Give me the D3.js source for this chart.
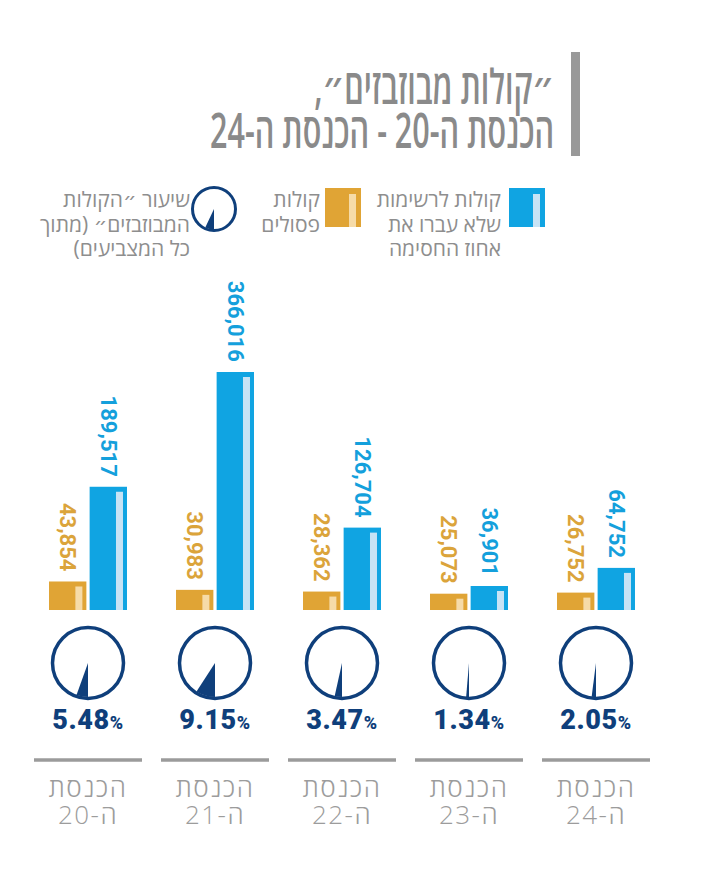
<!DOCTYPE html>
<html>
<head>
<meta charset="utf-8">
<script src="https://d3js.org/d3.v7.min.js"></script>
<style>
  html, body { margin: 0; padding: 0; background: #fff; }
  svg text { font-family: "Open Sans", "DejaVu Sans", sans-serif; }
</style>
</head>
<body>
<svg id="chart" width="716" height="889"></svg>
<script>
// values
var knessets = ["ה-20", "ה-21", "ה-22", "ה-23", "ה-24"];
var disqualified = [43854, 30983, 28362, 25073, 26752];
var belowThreshold = [189517, 366016, 126704, 36901, 64752];
var wastedPct = [5.48, 9.15, 3.47, 1.34, 2.05];

var titleLines = ["״קולות מבוזבזים״,", "הכנסת ה-20 - הכנסת ה-24"];
var legendBlue = ["קולות לרשימות", "שלא עברו את", "אחוז החסימה"];
var legendGold = ["קולות", "פסולים"];
var legendGauge = ["שיעור ״הקולות", "המבוזבזים״ (מתוך", "כל המצביעים)"];

var BLUE = "#10a4e2", BLUE_LIGHT = "#c7e3f5";
var GOLD = "#e0a435", GOLD_LIGHT = "#f6dba8";
var NAVY = "#0f3f7b";
var GRAY = "#8e8e8e";

var svg = d3.select("#chart");
var baseY = 610;

var x0 = d3.scaleBand().domain(knessets).range([24.5, 659.5]).paddingInner(0.386).paddingOuter(0.193);
var x1 = d3.scaleBand().domain(["gold", "blue"]).range([0, x0.bandwidth()]).paddingInner(0.08);
var y = d3.scaleLinear().domain([0, d3.max(belowThreshold)]).range([baseY, 372]);

var rows = knessets.map(function (k, i) {
  return {k: k, gold: disqualified[i], blue: belowThreshold[i], pct: wastedPct[i]};
});

// ---- title
svg.append("rect").attr("x", 571).attr("y", 52).attr("width", 9).attr("height", 104).attr("fill", "#999");
var title = svg.append("g").attr("transform", "translate(554,0)");
var titleText = title.selectAll("text").data(titleLines).enter().append("text")
  .attr("direction", "rtl").attr("text-anchor", "start")
  .attr("y", function (d, i) { return 104 + i * 44; })
  .attr("font-size", 48).attr("font-weight", 600).attr("fill", "#8a8a8a")
  .text(function (d) { return d; });
// squeeze to the condensed look of the original
var w2 = titleText.nodes()[1].getComputedTextLength();
title.attr("transform", "translate(554,0) scale(" + (344 / w2) + ",1)");

// ---- legend
function swatch(g, x, col, light) {
  g.append("rect").attr("x", x).attr("y", 188).attr("width", 36).attr("height", 39).attr("fill", col);
  g.append("rect").attr("x", x + 24).attr("y", 194).attr("width", 7).attr("height", 33).attr("fill", light);
}
function legendText(g, x, lines) {
  g.selectAll(null).data(lines).enter().append("text")
    .attr("direction", "rtl").attr("text-anchor", "start")
    .attr("x", x).attr("y", function (d, i) { return 207 + i * 24.5; })
    .attr("font-size", 21).attr("fill", GRAY)
    .text(function (d) { return d; });
}
var legend = svg.append("g");
swatch(legend, 509, BLUE, BLUE_LIGHT);
legendText(legend, 501, legendBlue);
swatch(legend, 325, GOLD, GOLD_LIGHT);
legendText(legend, 320, legendGold);
legend.append("circle").attr("cx", 214).attr("cy", 209).attr("r", 21.5)
  .attr("fill", "none").attr("stroke", NAVY).attr("stroke-width", 3);
legend.append("path").attr("transform", "translate(214,209)").attr("fill", NAVY)
  .attr("d", d3.arc().innerRadius(0).outerRadius(20.5).startAngle(Math.PI).endAngle(Math.PI + 2 * Math.PI * 0.07)());
legendText(legend, 190, legendGauge);

// ---- bars
var groups = svg.selectAll("g.grp").data(rows).enter().append("g")
  .attr("class", "grp")
  .attr("transform", function (d) { return "translate(" + x0(d.k) + ",0)"; });

["gold", "blue"].forEach(function (key) {
  var col = key === "gold" ? GOLD : BLUE;
  var light = key === "gold" ? GOLD_LIGHT : BLUE_LIGHT;
  groups.append("rect")
    .attr("x", x1(key)).attr("width", x1.bandwidth())
    .attr("y", function (d) { return y(d[key]); })
    .attr("height", function (d) { return baseY - y(d[key]); })
    .attr("fill", col);
  groups.append("rect")
    .attr("x", x1(key) + x1.bandwidth() - 11).attr("width", 7)
    .attr("y", function (d) { return y(d[key]) + 5; })
    .attr("height", function (d) { return Math.max(0, baseY - y(d[key]) - 5); })
    .attr("fill", light);
  groups.append("text")
    .attr("transform", function (d) {
      return "translate(" + (x1(key) + x1.bandwidth() / 2) + "," + (y(d[key]) - 10) + ") rotate(90)";
    })
    .attr("text-anchor", "end").attr("dominant-baseline", "central")
    .style("font-family", "Roboto, sans-serif")
    .attr("font-size", 22).attr("font-weight", 700)
    .attr("fill", key === "gold" ? "#dba43b" : "#14a0dc")
    .text(function (d) { return d3.format(",")(d[key]); });
});

// ---- gauges
var cx = x0.bandwidth() / 2, cy = 663, r = 35.5;
groups.append("circle").attr("cx", cx).attr("cy", cy).attr("r", r)
  .attr("fill", "none").attr("stroke", NAVY).attr("stroke-width", 3.5);
groups.append("path")
  .attr("transform", "translate(" + cx + "," + cy + ")")
  .attr("fill", NAVY)
  .attr("d", function (d) {
    return d3.arc().innerRadius(0).outerRadius(r - 1.5)
      .startAngle(Math.PI).endAngle(Math.PI + 2 * Math.PI * d.pct / 100)();
  });
var pctText = groups.append("text")
  .attr("x", cx).attr("y", 729).attr("text-anchor", "middle")
  .style("font-family", "Roboto, sans-serif")
  .attr("font-weight", 900).attr("fill", NAVY).attr("letter-spacing", 0.6);
pctText.append("tspan").attr("font-size", 27).text(function (d) { return d.pct.toFixed(2); });
pctText.append("tspan").attr("font-size", 18).text("%");

// ---- separators and category labels
groups.append("line")
  .attr("x1", cx - 54).attr("x2", cx + 54).attr("y1", 760).attr("y2", 760)
  .attr("stroke", "#9b9b9b").attr("stroke-width", 3.5);
var catLabel = groups.append("text")
  .attr("direction", "rtl").attr("text-anchor", "middle")
  .attr("font-size", 26).attr("font-weight", 300).attr("fill", "#9c9c9c")
  .attr("letter-spacing", 1.5);
catLabel.append("tspan").attr("x", cx).attr("y", 797).text("הכנסת");
catLabel.append("tspan").attr("x", cx).attr("y", 824).text(function (d) { return d.k; });
</script>
</body>
</html>
